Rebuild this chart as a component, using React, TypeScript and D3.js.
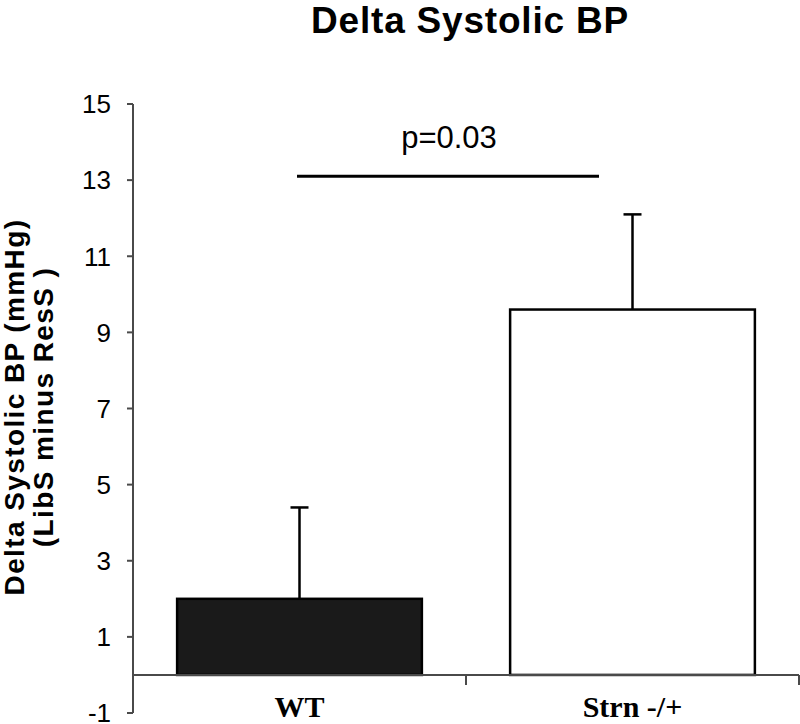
import React from 'react'
import * as d3 from 'd3'

// values
const groups = ['WT', 'Strn -/+']
const means = [2.0, 9.6]
const errors = [2.4, 2.5]
const barFills = ['#1a1a1a', '#ffffff']
const yTicks = [-1, 1, 3, 5, 7, 9, 11, 13, 15]
const pValue = 'p=0.03'
const pLineLevel = 13.1

const W = 800
const H = 724

export default function App() {
    const x = d3.scaleBand<string>().domain(groups).range([133, 799]).padding(0)
    const y = d3.scaleLinear().domain([-1, 15]).range([713, 104])
    const barW = x.bandwidth() * 0.735
    const sans = 'Arial, "Liberation Sans", Helvetica, sans-serif'
    const serif = '"Times New Roman", "Liberation Serif", serif'
    const axisColor = '#4a4a4a'

    return (
        <svg width={W} height={H} style={{position: 'absolute', left: 0, top: 0, background: '#fff'}}>
            <text x={470} y={33} textAnchor="middle" fontFamily={sans} fontWeight="bold"
                  fontSize={37} letterSpacing={0.8}>Delta Systolic BP</text>

            {/* y axis label */}
            <g transform="translate(24,407) rotate(-90)" fontFamily={sans} fontWeight="bold" fontSize={28}>
                <text x={0} y={0} textAnchor="middle" letterSpacing={1.4}>Delta Systolic BP (mmHg)</text>
                <text x={0} y={29} textAnchor="middle" letterSpacing={1.4}>(LibS minus ResS )</text>
            </g>

            {/* y axis */}
            <line x1={133} x2={133} y1={y(15)} y2={y(-1)} stroke={axisColor} strokeWidth={2}/>
            {yTicks.map(t => (
                <g key={t}>
                    <line x1={127} x2={133} y1={y(t)} y2={y(t)} stroke={axisColor} strokeWidth={2}/>
                    <text x={111} y={y(t)} dy="0.36em" textAnchor="end" fontFamily={sans} fontSize={26}>{t}</text>
                </g>
            ))}

            {/* bars */}
            {groups.map((g, i) => {
                const cx = x(g)! + x.bandwidth() / 2
                return (
                    <g key={g}>
                        <rect x={cx - barW / 2} y={y(means[i])} width={barW} height={y(0) - y(means[i])}
                              fill={barFills[i]} stroke="#000" strokeWidth={2.5}/>
                        <line x1={cx} x2={cx} y1={y(means[i])} y2={y(means[i] + errors[i])}
                              stroke="#000" strokeWidth={2.5}/>
                        <line x1={cx - 9} x2={cx + 9} y1={y(means[i] + errors[i])} y2={y(means[i] + errors[i])}
                              stroke="#000" strokeWidth={2.5}/>
                        <text x={cx} y={717} textAnchor="middle" fontFamily={serif} fontWeight="bold"
                              fontSize={30}>{g}</text>
                    </g>
                )
            })}

            {/* x axis */}
            <line x1={133} x2={799} y1={y(0)} y2={y(0)} stroke={axisColor} strokeWidth={2}/>
            {groups.map(g => (
                <line key={g} x1={x(g)! + x.bandwidth()} x2={x(g)! + x.bandwidth()} y1={y(0)} y2={y(0) + 10}
                      stroke={axisColor} strokeWidth={2}/>
            ))}

            {/* significance */}
            <line x1={297} x2={599} y1={y(pLineLevel)} y2={y(pLineLevel)} stroke="#000" strokeWidth={3}/>
            <text x={449} y={148} textAnchor="middle" fontFamily={sans} fontSize={31}>{pValue}</text>
        </svg>
    )
}
